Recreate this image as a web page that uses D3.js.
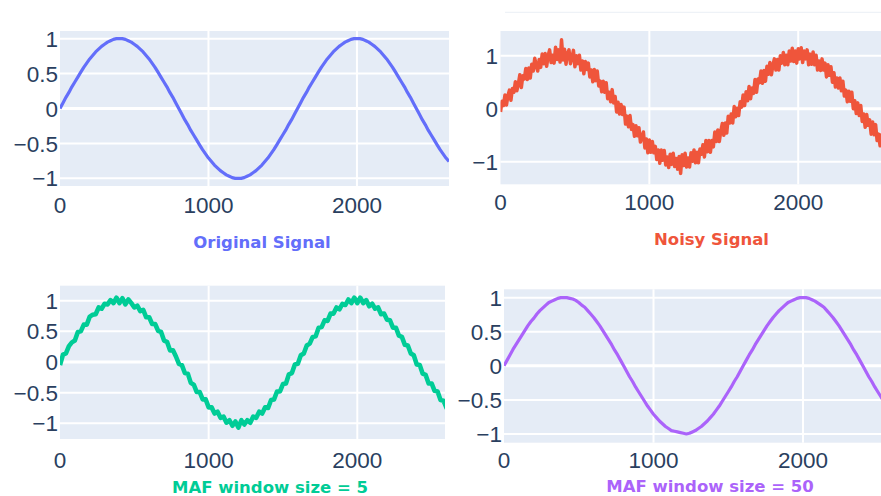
<!DOCTYPE html>
<html>
<head>
<meta charset="utf-8">
<script src="https://cdn.jsdelivr.net/npm/d3@7"></script>
<style>
  html, body { margin: 0; padding: 0; background: #fff; }
  svg { display: block; }
</style>
</head>
<body>
<svg id="chart"></svg>
<script>
const W = 881, H = 496;
const sampleStep = 20; // original, MAF 5 and MAF 50: one value every 20 samples
const noisyStep = 10;  // noisy signal: one value every 10 samples

// values (x = 0 .. 2620)
const originalSignal = [
  0, .08, .16, .23, .31, .38, .45, .52, .59, .65, .71, .76, .81, .85, .89, .92, .95, .97, .99, 1, 1,
  1, .99, .97, .95, .92, .89, .85, .81, .76, .71, .65, .59, .52, .45, .38, .31, .23, .16, .08, 0,
  -.08, -.16, -.23, -.31, -.38, -.45, -.52, -.59, -.65, -.71, -.76, -.81, -.85, -.89, -.92, -.95, -.97, -.99, -1, -1,
  -1, -.99, -.97, -.95, -.92, -.89, -.85, -.81, -.76, -.71, -.65, -.59, -.52, -.45, -.38, -.31, -.23, -.16, -.08, 0,
  .08, .16, .23, .31, .38, .45, .52, .59, .65, .71, .76, .81, .85, .89, .92, .95, .97, .99, 1, 1,
  1, .99, .97, .95, .92, .89, .85, .81, .76, .71, .65, .59, .52, .45, .38, .31, .23, .16, .08, 0,
  -.08, -.16, -.23, -.31, -.38, -.45, -.52, -.59, -.65, -.71, -.76
];

const noisySignal = [
  -.06, .14, .06, .26, .07, .25, .35, .16, .38, .31,
  .51, .34, .47, .64, .40, .62, .56, .76, .55, .77,
  .58, .84, .71, .95, .82, .71, .93, .78, 1.03, .85,
  1.04, .80, 1.00, 1.11, .87, 1.01, .86, 1.16, .93, 1.11,
  .88, 1.30, .92, 1.12, .84, 1.04, 1.11, .85, .97, 1.10,
  .79, 1.00, .85, 1.01, .73, .90, .66, .89, .74, .86,
  .60, .73, .51, .74, .53, .71, .43, .52, .32, .52,
  .31, .49, .19, .31, .13, .36, .11, .23, -.06, .12,
  -.10, .08, -.11, .03, -.29, -.14, -.34, -.13, -.39, -.30,
  -.52, -.32, -.51, -.36, -.63, -.53, -.44, -.74, -.57, -.83,
  -.59, -.82, -.62, -.83, -.71, -.96, -.78, -1.03, -.78, -.97,
  -.79, -1.06, -.91, -1.11, -.86, -1.05, -.84, -1.09, -.94, -1.14,
  -.90, -1.22, -.87, -1.07, -.84, -1.10, -.93, -1.10, -.83, -.99,
  -.78, -1.02, -.82, -1.02, -.76, -.86, -.68, -.91, -.60, -.81,
  -.60, -.82, -.60, -.72, -.44, -.62, -.40, -.62, -.42, -.28,
  -.50, -.27, -.46, -.14, -.27, -.10, -.27, .04, -.15, .01,
  -.13, .13, .03, .26, .06, .32, .15, .42, .19, .39,
  .29, .55, .31, .56, .49, .71, .48, .72, .52, .80,
  .65, .87, .64, .82, .94, .73, .93, .73, 1.00, .86,
  1.06, .83, 1.01, .83, 1.09, .90, 1.14, .89, 1.09, .86,
  1.13, .94, 1.15, .87, 1.09, .94, 1.11, .83, 1.03, .84,
  1.07, .83, 1.01, .73, .90, .72, .94, .73, .86, .60,
  .83, .63, .79, .50, .68, .41, .58, .39, .58, .34,
  .52, .24, .35, .13, .33, .14, .31, .00, .15, -.09,
  .11, -.13, .06, -.24, -.10, -.35, -.11, -.31, -.21, -.48,
  -.25, -.49, -.30, -.60, -.48, -.70, -.49, -.70, -.51, -.80,
  -.60, -.86, -.67
];

const maf5Signal = [
  -.05, .12, .14, .26, .32, .35, .49, .50, .61, .61, .74,
  .77, .78, .89, .87, .95, .94, 1.01, .96, 1.05, .96,
  1.04, .94, 1.02, .96, .89, .92, .83, .85, .73, .73,
  .62, .62, .51, .49, .35, .33, .19, .19, .09, -.03,
  -.05, -.18, -.19, -.34, -.37, -.49, -.49, -.61, -.61, -.74,
  -.74, -.84, -.81, -.91, -.89, -.99, -.95, -1.04, -.97, -1.07,
  -.95, -1.02, -.95, -.99, -.89, -.91, -.81, -.84, -.74, -.75,
  -.62, -.61, -.48, -.48, -.36, -.35, -.20, -.18, -.04, -.03,
  .11, .14, .27, .30, .41, .42, .56, .57, .68, .67,
  .79, .79, .89, .86, .95, .93, 1.02, .96, 1.05, .96,
  1.05, .96, 1.01, .91, .95, .87, .89, .78, .79, .69,
  .68, .56, .56, .43, .41, .28, .27, .14, .11, -.04,
  -.05, -.19, -.21, -.35, -.35, -.47, -.48, -.62, -.63, -.75, -.73
];

const maf50Signal = [
  0, .08, .16, .24, .31, .38, .45, .52, .59, .65, .70, .76, .81, .85, .89, .93, .95, .97, .99, 1, 1,
  1, .99, .98, .96, .93, .89, .86, .81, .76, .71, .65, .59, .52, .45, .38, .31, .23, .16, .08, 0,
  -.08, -.16, -.23, -.31, -.38, -.45, -.52, -.59, -.65, -.71, -.76, -.81, -.85, -.89, -.92, -.95, -.96, -.97, -.98, -.99,
  -1, -.99, -.97, -.95, -.92, -.89, -.85, -.81, -.76, -.71, -.65, -.59, -.52, -.45, -.38, -.31, -.23, -.16, -.08, 0,
  .08, .16, .23, .31, .38, .45, .52, .59, .65, .71, .76, .81, .85, .89, .93, .95, .97, .99, 1, 1,
  1, .99, .97, .95, .92, .89, .86, .81, .76, .71, .65, .59, .52, .45, .38, .31, .23, .16, .08, 0,
  -.08, -.16, -.23, -.31, -.38, -.45, -.52, -.59, -.65, -.71, -.76
];

const titles = ["Original Signal", "Noisy Signal", "MAF window size = 5", "MAF window size = 50"];
const colors = ["#636efa", "#ef553b", "#00cc96", "#ab63fa"];
const xTicks = [0, 1000, 2000];
const yTicksFine = [-1, -0.5, 0, 0.5, 1];
const yTicksCoarse = [-1, 0, 1];

const panels = [
  { values: originalSignal, step: sampleStep, left: 60, right: 449, top: 31, bottom: 186, xMax: 2620,
    yDom: [-1.11, 1.11], yTicks: yTicksFine, xLabelY: 213, yLabelX: 58, titleX: 262, titleY: 247.5, lw: 3.2 },
  { values: noisySignal, step: noisyStep, left: 500.5, right: 890.5, top: 31, bottom: 184.3, xMax: 2620,
    yDom: [-1.426, 1.466], yTicks: yTicksCoarse, xLabelY: 210, yLabelX: 498, titleX: 711.5, titleY: 244.7, lw: 3.5 },
  { values: maf5Signal, step: sampleStep, left: 60, right: 445, top: 285.7, bottom: 439, xMax: 2590,
    yDom: [-1.256, 1.245], yTicks: yTicksFine, xLabelY: 468, yLabelX: 58, titleX: 270, titleY: 493, lw: 4.6 },
  { values: maf50Signal, step: sampleStep, left: 504, right: 895.7, top: 289.3, bottom: 442.7, xMax: 2620,
    yDom: [-1.128, 1.123], yTicks: yTicksFine, xLabelY: 468, yLabelX: 502, titleX: 710, titleY: 492, lw: 3.2 }
];

const svg = d3.select("#chart").attr("width", W).attr("height", H);
svg.append("rect").attr("width", W).attr("height", H).attr("fill", "#fff");

// faint line left over from the cropped figure above
svg.append("line")
  .attr("x1", 505).attr("x2", W).attr("y1", 12.3).attr("y2", 12.3)
  .attr("stroke", "#eaeff6").attr("stroke-width", 1);

const fmt = d => d < 0 ? "\u2212" + Math.abs(d) : String(d);

panels.forEach((p, i) => {
  const x = d3.scaleLinear().domain([0, p.xMax]).range([p.left, p.right]);
  const y = d3.scaleLinear().domain(p.yDom).range([p.bottom, p.top]);
  const g = svg.append("g");

  g.append("clipPath").attr("id", "clip" + i)
    .append("rect")
    .attr("x", p.left).attr("y", p.top)
    .attr("width", p.right - p.left).attr("height", p.bottom - p.top);

  g.append("rect")
    .attr("x", p.left).attr("y", p.top)
    .attr("width", p.right - p.left).attr("height", p.bottom - p.top)
    .attr("fill", "#e5ecf6");

  // grid
  g.selectAll(".gx").data(xTicks.filter(d => d > 0)).enter().append("line")
    .attr("x1", d => x(d)).attr("x2", d => x(d))
    .attr("y1", p.top).attr("y2", p.bottom)
    .attr("stroke", "#fff").attr("stroke-width", 2);
  g.selectAll(".gy").data(p.yTicks).enter().append("line")
    .attr("x1", p.left).attr("x2", p.right)
    .attr("y1", d => y(d)).attr("y2", d => y(d))
    .attr("stroke", "#fff").attr("stroke-width", d => d === 0 ? 3 : 2);

  // the signal
  const line = d3.line()
    .x((d, k) => x(k * p.step))
    .y(d => y(d));
  g.append("path")
    .datum(p.values)
    .attr("clip-path", "url(#clip" + i + ")")
    .attr("d", line)
    .attr("fill", "none")
    .attr("stroke", colors[i])
    .attr("stroke-width", p.lw)
    .attr("stroke-linejoin", "round");

  // tick labels
  g.selectAll(".tx").data(xTicks).enter().append("text")
    .attr("x", d => x(d)).attr("y", p.xLabelY)
    .attr("text-anchor", "middle")
    .style("font-family", "'Liberation Sans', Arial, sans-serif")
    .style("font-size", "22.5px")
    .attr("fill", "#2a3f5f")
    .text(fmt);
  g.selectAll(".ty").data(p.yTicks).enter().append("text")
    .attr("x", p.yLabelX).attr("y", d => y(d))
    .attr("dy", "0.36em")
    .attr("text-anchor", "end")
    .style("font-family", "'Liberation Sans', Arial, sans-serif")
    .style("font-size", "22.5px")
    .attr("fill", "#2a3f5f")
    .text(fmt);

  // title under the panel
  g.append("text")
    .attr("x", p.titleX).attr("y", p.titleY)
    .attr("text-anchor", "middle")
    .style("font-family", "'DejaVu Sans', sans-serif")
    .style("font-weight", "bold")
    .style("font-size", "16.5px")
    .attr("fill", colors[i])
    .text(titles[i]);
});
</script>
</body>
</html>
